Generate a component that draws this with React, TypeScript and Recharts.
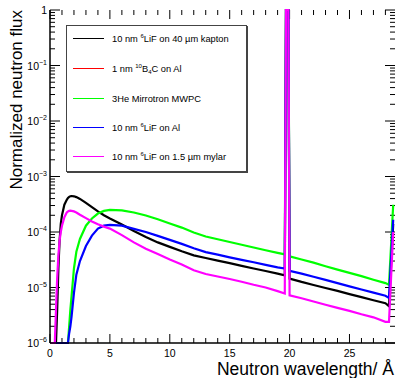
import { Line, LineChart, XAxis, YAxis } from "recharts";

const FONT = "'Liberation Sans', Arial, Helvetica, sans-serif";

// wavelength bins (Å)
const wavelength = [
  0.1, 0.3, 0.4, 0.5, 0.6, 0.7, 0.8, 0.9, 1.0, 1.2, 1.4, 1.5, 1.6, 1.7, 1.8, 2.0, 2.2, 2.5, 3.0, 3.5, 4.0,
  4.5, 5.0, 6, 7, 8, 9, 10, 11, 12, 13, 14, 15, 16, 17, 18, 19, 19.6, 19.7, 19.9, 20.0,
  21, 22, 23, 24, 25, 26, 27, 28, 28.3, 28.65,
];

const lifKapton = [
  null, null, null, 1e-6, 4e-6, 2.2e-5, 7e-5, 1.4e-4, 2.0e-4, 3.1e-4, 3.8e-4, 4.1e-4, 4.3e-4, 4.4e-4, 4.45e-4, 4.4e-4, 4.25e-4, 3.95e-4, 3.35e-4, 2.8e-4, 2.35e-4,
  2.0e-4, 1.75e-4, 1.36e-4, 1.04e-4, 8.1e-5, 6.5e-5, 5.4e-5, 4.5e-5, 3.8e-5, 3.4e-5, 3.05e-5, 2.75e-5, 2.45e-5, 2.2e-5, 1.98e-5, 1.78e-5, 1.66e-5, 1, 1, 1.45e-5,
  1.26e-5, 1.11e-5, 9.8e-6, 8.7e-6, 7.6e-6, 6.7e-6, 5.9e-6, 5.2e-6, 4.6e-6, 1.4e-4,
];

// not visible in the plot, legend entry only
const b4cAl = wavelength.map(() => null);

const mirrotron = [
  null, null, null, null, null, null, null, null, null, null, null, 1e-6, 2e-6, 4e-6, 7e-6, 2.2e-5, 4.4e-5, 7.5e-5, 1.3e-4, 1.75e-4, 2.15e-4,
  2.4e-4, 2.5e-4, 2.45e-4, 2.25e-4, 1.98e-4, 1.7e-4, 1.42e-4, 1.2e-4, 9.8e-5, 8.3e-5, 7.4e-5, 6.6e-5, 5.9e-5, 5.25e-5, 4.7e-5, 4.2e-5, 3.95e-5, 1, 1, 3.65e-5,
  3.2e-5, 2.8e-5, 2.42e-5, 2.1e-5, 1.83e-5, 1.6e-5, 1.38e-5, 1.2e-5, 1.12e-5, 3.1e-4,
];

const lifAl = [
  null, null, null, 1e-6, 1e-6, 1e-6, 1e-6, 1e-6, 1e-6, 1e-6, 1e-6, 1e-6, 1.5e-6, 2e-6, 3e-6, 8e-6, 1.7e-5, 3.0e-5, 5.6e-5, 8.6e-5, 1.15e-4,
  1.3e-4, 1.34e-4, 1.3e-4, 1.14e-4, 1.0e-4, 8.5e-5, 7.2e-5, 6.1e-5, 5.1e-5, 4.35e-5, 3.9e-5, 3.5e-5, 3.15e-5, 2.85e-5, 2.55e-5, 2.3e-5, 2.2e-5, 1, 1, 2.0e-5,
  1.78e-5, 1.56e-5, 1.37e-5, 1.2e-5, 1.05e-5, 9.2e-6, 8.1e-6, 7.1e-6, 6.5e-6, 1.66e-4,
];

const lifMylar = [
  1e-6, 1e-6, 1e-6, 4e-6, 1.5e-5, 3.8e-5, 7e-5, 1.0e-4, 1.3e-4, 1.85e-4, 2.25e-4, 2.35e-4, 2.4e-4, 2.42e-4, 2.4e-4, 2.35e-4, 2.25e-4, 2.05e-4, 1.78e-4, 1.55e-4, 1.38e-4,
  1.25e-4, 1.15e-4, 8.8e-5, 6.5e-5, 5.0e-5, 4.0e-5, 3.2e-5, 2.6e-5, 2.05e-5, 1.75e-5, 1.58e-5, 1.42e-5, 1.27e-5, 1.12e-5, 1.0e-5, 8.6e-6, 7.8e-6, 1, 1, 7.2e-6,
  6.4e-6, 5.6e-6, 4.9e-6, 4.3e-6, 3.8e-6, 3.3e-6, 2.9e-6, 2.4e-6, 2.4e-6, 1.0e-4,
];

const xMajorTicks = [0, 5, 10, 15, 20, 25];
const xAllTicks = Array.from({ length: 29 }, (_, i) => i);
const yMajorTicks = [1e-6, 1e-5, 1e-4, 1e-3, 1e-2, 1e-1, 1];
const yAllTicks: number[] = [];
for (let e = -6; e < 0; e++) for (let m = 1; m <= 9; m++) yAllTicks.push(m * Math.pow(10, e));
yAllTicks.push(1);

const X_DOMAIN: [number, number] = [0, 28.8];
const Y_DOMAIN: [number, number] = [1e-6, 1];

// plot box, fixed by the margins and axis sizes below
const W = 400;
const H = 378;
const M = { top: 10, right: 5, bottom: 0, left: 0 };
const Y_AXIS_W = 50;
const X_AXIS_H = 35;
const P_LEFT = M.left + Y_AXIS_W;
const P_RIGHT = W - M.right;
const P_TOP = M.top;
const P_BOTTOM = H - M.bottom - X_AXIS_H;

const px = (v: number) => P_LEFT + ((v - X_DOMAIN[0]) / (X_DOMAIN[1] - X_DOMAIN[0])) * (P_RIGHT - P_LEFT);
const py = (v: number) =>
  P_BOTTOM - ((Math.log10(v) - Math.log10(Y_DOMAIN[0])) / (Math.log10(Y_DOMAIN[1]) - Math.log10(Y_DOMAIN[0]))) * (P_BOTTOM - P_TOP);
const isDecade = (v: number) => Math.abs(Math.log10(v) - Math.round(Math.log10(v))) < 1e-6;

const series = [
  { key: "kapton", color: "#000000", values: lifKapton },
  { key: "b4c", color: "#ff0000", values: b4cAl },
  { key: "mirrotron", color: "#00ff00", values: mirrotron },
  { key: "lifal", color: "#0000ff", values: lifAl },
  { key: "mylar", color: "#ff00ff", values: lifMylar },
];

const data = wavelength.map((wl, i) => {
  const row: Record<string, number | null> = { wl };
  series.forEach((s) => (row[s.key] = s.values[i]));
  return row;
});

function XLabel(props: any) {
  return (
    <text x={props.x} y={Number(props.y) + 14} textAnchor="middle" fontSize={10.5} fontFamily={FONT} fill="#000">
      {props.payload.value}
    </text>
  );
}

function YLabel(props: any) {
  const e = Math.round(Math.log10(props.payload.value));
  return (
    <text x={Number(props.x) - 3} y={Number(props.y) + 4} textAnchor="end" fontSize={10.5} fontFamily={FONT} fill="#000">
      {e === 0 ? "1" : "10"}
      {e !== 0 && (
        <tspan dy={-5} fontSize={7}>
          {"\u2212" + -e}
        </tspan>
      )}
    </text>
  );
}

// inward ROOT-style tick marks on all four sides
function TickMarks() {
  const segs: string[] = [];
  xAllTicks.forEach((v) => {
    const len = v % 5 === 0 ? 9 : 5;
    const x = px(v);
    segs.push(`M${x},${P_BOTTOM}V${P_BOTTOM - len}`);
    segs.push(`M${x},${P_TOP}V${P_TOP + len}`);
  });
  yAllTicks.forEach((v) => {
    const len = isDecade(v) ? 10 : 5;
    const y = py(v);
    segs.push(`M${P_LEFT},${y}H${P_LEFT + len}`);
    segs.push(`M${P_RIGHT},${y}H${P_RIGHT - len}`);
  });
  return <path d={segs.join("")} stroke="#000" strokeWidth={1} fill="none" />;
}

const frame = { stroke: "#000", strokeWidth: 1.5 };

const legendRows = [
  { color: "#000000", label: <>10 nm <sup>6</sup>LiF on 40 µm kapton</> },
  { color: "#ff0000", label: <>1 nm <sup>10</sup>B<sub>4</sub>C on Al</> },
  { color: "#00ff00", label: <>3He Mirrotron MWPC</> },
  { color: "#0000ff", label: <>10 nm <sup>6</sup>LiF on Al</> },
  { color: "#ff00ff", label: <>10 nm <sup>6</sup>LiF on 1.5 µm mylar</> },
];
const legendTops = [7, 37, 67, 96, 125];

const supStyle = `.lg sup{font-size:6px;vertical-align:4px;line-height:0}.lg sub{font-size:6px;vertical-align:-2px;line-height:0}`;

export default function App() {
  return (
    <div style={{ position: "absolute", left: 0, top: 0, width: W, height: H, background: "#fff" }}>
      <style>{supStyle}</style>
      <LineChart width={W} height={H} data={data} margin={M}>
        <XAxis
          xAxisId="b"
          dataKey="wl"
          type="number"
          domain={X_DOMAIN}
          ticks={xMajorTicks}
          interval={0}
          height={X_AXIS_H}
          tickSize={0}
          tickMargin={0}
          tickLine={false}
          tick={<XLabel />}
          axisLine={frame}
        />
        <XAxis xAxisId="t" orientation="top" dataKey="wl" type="number" domain={X_DOMAIN} height={0} tick={false} tickLine={false} axisLine={frame} />
        <YAxis
          yAxisId="l"
          type="number"
          scale="log"
          domain={Y_DOMAIN}
          ticks={yMajorTicks}
          interval={0}
          width={Y_AXIS_W}
          tickSize={0}
          tickMargin={0}
          tickLine={false}
          tick={<YLabel />}
          axisLine={frame}
        />
        <YAxis yAxisId="r" orientation="right" type="number" scale="log" domain={Y_DOMAIN} width={0} tick={false} tickLine={false} axisLine={frame} />
        {series.map((s) => (
          <Line
            key={s.key}
            xAxisId="b"
            yAxisId="l"
            dataKey={s.key}
            stroke={s.color}
            strokeWidth={2.2}
            dot={false}
            type="linear"
            isAnimationActive={false}
          />
        ))}
        <TickMarks />
        <text x={394} y={375} textAnchor="end" fontSize={17.5} fontFamily={FONT} fill="#000">
          Neutron wavelength/ Å
        </text>
        <text transform="translate(21.5,10) rotate(-90)" textAnchor="end" fontSize={17} fontFamily={FONT} fill="#000">
          Normalized neutron flux
        </text>
      </LineChart>
      <div
        className="lg"
        style={{
          position: "absolute",
          left: 66,
          top: 25,
          width: 179,
          height: 145,
          border: "1px solid #444",
          boxShadow: "1px 1px 0 #444",
          background: "#fff",
          fontFamily: FONT,
          fontSize: 9.3,
          color: "#000",
        }}
      >
        {legendRows.map((r, i) => (
          <div
            key={i}
            style={{
              position: "absolute",
              left: 6,
              top: legendTops[i],
              height: 11,
              display: "flex",
              alignItems: "center",
              whiteSpace: "nowrap",
            }}
          >
            <div style={{ width: 31, height: 1, background: r.color, marginRight: 8 }} />
            <span>{r.label}</span>
          </div>
        ))}
      </div>
    </div>
  );
}
